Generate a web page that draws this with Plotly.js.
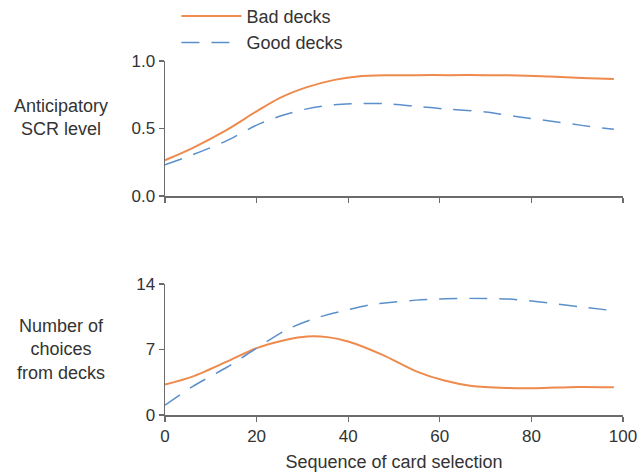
<!DOCTYPE html>
<html>
<head>
<meta charset="utf-8">
<script src="https://cdn.plot.ly/plotly-3.0.1.min.js"></script>
<style>html,body{margin:0;padding:0;background:#fff;}#chart{width:644px;height:475px;}</style>
</head>
<body>
<div id="chart"></div>
<script>
// Top panel: anticipatory SCR level
const scrX = [0, 6, 13.5, 20, 25, 31, 37, 42, 48, 55, 62, 70, 77, 84, 91, 98];
const scrBad = [0.265, 0.355, 0.49, 0.627, 0.725, 0.806, 0.86, 0.885, 0.894, 0.895, 0.895, 0.895, 0.893, 0.884, 0.874, 0.866];
const scrGood = [0.232, 0.305, 0.41, 0.525, 0.59, 0.645, 0.676, 0.684, 0.684, 0.664, 0.642, 0.622, 0.587, 0.556, 0.523, 0.494];

// Bottom panel: number of choices from decks
const choiceX = [0, 6, 13.5, 20, 26.5, 31, 35.5, 40, 47.5, 55, 61, 67, 74.5, 81, 90, 98];
const choiceBad = [3.25, 4.1, 5.7, 7.14, 8.04, 8.39, 8.32, 7.86, 6.43, 4.64, 3.68, 3.1, 2.89, 2.86, 3.0, 2.96];
const choiceGoodX = [0, 6, 13.5, 20, 26.5, 33, 40, 45, 48, 56, 66.5, 75, 84, 91, 98];
const choiceGood = [1.05, 3.04, 5.1, 7.14, 9.1, 10.36, 11.25, 11.8, 11.96, 12.32, 12.46, 12.39, 11.96, 11.54, 11.14];

const seriesNames = ['Bad decks', 'Good decks'];
const xTicks = [0, 20, 40, 60, 80, 100];

const orange = '#EE8A4E';
const blue = '#5B8FCB';
const axisCol = '#6b6b6b';
const tickFont = {family: 'Liberation Sans, Arial, sans-serif', size: 17, color: '#333'};
const font = {family: 'Liberation Sans, Arial, sans-serif', size: 18, color: '#333'};

const traces = [
  {x: scrX, y: scrBad, name: seriesNames[0], type: 'scatter', mode: 'lines',
   line: {color: orange, width: 2, shape: 'spline', smoothing: 0.8}, xaxis: 'x', yaxis: 'y'},
  {x: scrX, y: scrGood, name: seriesNames[1], type: 'scatter', mode: 'lines',
   line: {color: blue, width: 1.5, shape: 'spline', smoothing: 0.8, dash: '18px,12px'}, xaxis: 'x', yaxis: 'y'},
  {x: choiceX, y: choiceBad, name: seriesNames[0], type: 'scatter', mode: 'lines', showlegend: false,
   line: {color: orange, width: 2, shape: 'spline', smoothing: 0.8}, xaxis: 'x2', yaxis: 'y2'},
  {x: choiceGoodX, y: choiceGood, name: seriesNames[1], type: 'scatter', mode: 'lines', showlegend: false,
   line: {color: blue, width: 1.5, shape: 'spline', smoothing: 0.8, dash: '18px,12px'}, xaxis: 'x2', yaxis: 'y2'}
];

const axBase = {showgrid: false, zeroline: false, showline: true, linecolor: axisCol, linewidth: 1.5,
  ticks: 'outside', ticklen: 5, tickcolor: axisCol, tickwidth: 1.2, tickfont: tickFont};

const layout = {
  width: 644, height: 475,
  margin: {l: 165, r: 21, t: 50, b: 60, autoexpand: false},
  paper_bgcolor: '#fff', plot_bgcolor: '#fff',
  font: font,
  showlegend: true,
  legend: {x: 0.025, y: 1.143, xanchor: 'left', yanchor: 'top', bgcolor: 'rgba(0,0,0,0)',
    font: font, itemwidth: 60, tracegroupgap: 0},
  xaxis: Object.assign({}, axBase, {domain: [0, 1], range: [0, 100], tickvals: xTicks, showticklabels: false, anchor: 'y'}),
  yaxis: Object.assign({}, axBase, {domain: [0.6, 0.97], range: [0, 1], tickvals: [0, 0.5, 1], tickformat: '.1f', anchor: 'x'}),
  xaxis2: Object.assign({}, axBase, {domain: [0, 1], range: [0, 100], tickvals: xTicks, anchor: 'y2',
    title: {text: 'Sequence of card selection', font: font, standoff: 10}}),
  yaxis2: Object.assign({}, axBase, {domain: [0, 0.359], range: [0, 14], tickvals: [0, 7, 14], anchor: 'x2'}),
  annotations: [
    {text: 'Anticipatory<br>SCR level', xref: 'paper', yref: 'paper', x: -0.228, y: 0.815,
     xanchor: 'center', yanchor: 'middle', showarrow: false, font: font, align: 'center'},
    {text: 'Number of<br>choices<br>from decks', xref: 'paper', yref: 'paper', x: -0.228, y: 0.18,
     xanchor: 'center', yanchor: 'middle', showarrow: false, font: font, align: 'center'}
  ]
};

Plotly.newPlot('chart', traces, layout, {displayModeBar: false, staticPlot: true});
</script>
</body>
</html>
